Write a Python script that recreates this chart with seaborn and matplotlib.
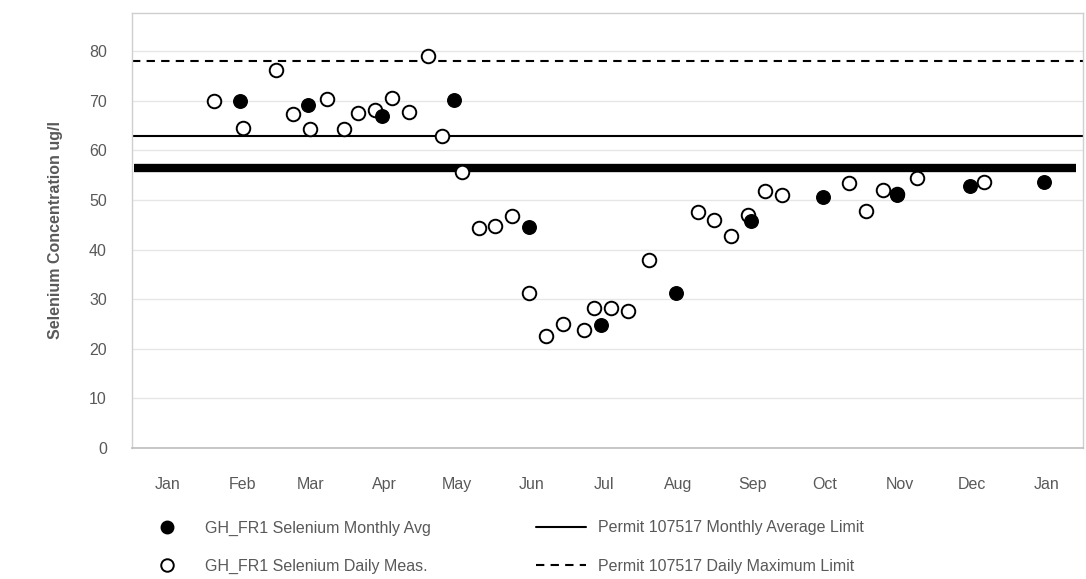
import pandas as pd
import numpy as np
import seaborn as sns
import matplotlib.dates as mdates
from matplotlib import pyplot as plt
from matplotlib.lines import Line2D

# datos
daily_dates = ['2019-01-20', '2019-02-01', '2019-02-15', '2019-02-22', '2019-03-01',
               '2019-03-08', '2019-03-15', '2019-03-21', '2019-03-28', '2019-04-04',
               '2019-04-11', '2019-04-19', '2019-04-25', '2019-05-03', '2019-05-10',
               '2019-05-17', '2019-05-24', '2019-05-31', '2019-06-07', '2019-06-14',
               '2019-06-23', '2019-06-27', '2019-07-04', '2019-07-11', '2019-07-20',
               '2019-08-09', '2019-08-16', '2019-08-23', '2019-08-30', '2019-09-06',
               '2019-09-13', '2019-10-11', '2019-10-18', '2019-10-25', '2019-10-31',
               '2019-11-08', '2019-12-06']
daily_values = [70.0, 64.5, 76.2, 67.3, 64.3, 70.4, 64.4, 67.6, 68.1, 70.6,
                67.7, 79.0, 62.9, 55.6, 44.3, 44.7, 46.7, 31.3, 22.6, 24.9,
                23.8, 28.3, 28.3, 27.7, 37.9, 47.5, 45.9, 42.8, 46.9, 51.9,
                51.0, 53.4, 47.7, 52.1, 51.2, 54.5, 53.7]

monthly_dates = ['2019-01-31', '2019-02-28', '2019-03-31', '2019-04-30', '2019-05-31',
                 '2019-06-30', '2019-07-31', '2019-08-31', '2019-09-30', '2019-10-31',
                 '2019-11-30', '2019-12-31']
monthly_values = [70.0, 69.2, 66.9, 70.1, 44.5, 24.8, 31.3, 45.7, 50.6, 51.0, 52.9, 53.7]

monthly_limit = 63
daily_limit = 78
bold_line_dates = ['2018-12-18', '2020-01-13']
bold_line_value = 56.4

x_range = ['2018-12-17', '2020-01-16']
y_range = (0, 87.7)

#############################################################################
daily = pd.DataFrame({'fecha': pd.to_datetime(daily_dates), 'valor': daily_values})
monthly = pd.DataFrame({'fecha': pd.to_datetime(monthly_dates), 'valor': monthly_values})

sns.set_style('white')
plt.rcParams['font.family'] = ['Liberation Sans Narrow', 'Liberation Sans', 'DejaVu Sans']

fig = plt.figure(figsize=(10.86, 5.79), dpi=100)
ax = fig.add_axes([0.1215, 0.2263, 0.8755, 0.7512])

gris = '#595959'

# lineas de limite
ax.axhline(daily_limit, color='black', lw=1.5, ls=(0, (4, 3)), zorder=2)
ax.axhline(monthly_limit, color='black', lw=1.5, zorder=2)
ax.plot(pd.to_datetime(bold_line_dates), [bold_line_value] * 2, color='black', lw=6,
        solid_capstyle='butt', zorder=2)

# puntos: diarios primero, promedio mensual encima
sns.scatterplot(data=daily, x='fecha', y='valor', ax=ax, marker='o', s=95,
                facecolor='white', edgecolor='black', linewidth=1.4, zorder=3)
sns.scatterplot(data=monthly, x='fecha', y='valor', ax=ax, marker='o', s=95,
                color='black', edgecolor='black', linewidth=1.0, zorder=4)

ax.set_xlim(pd.to_datetime(x_range[0]), pd.to_datetime(x_range[1]))
ax.set_ylim(*y_range)
ax.set_yticks(np.arange(0, 81, 10))
ax.xaxis.set_major_locator(mdates.MonthLocator())
ax.xaxis.set_major_formatter(mdates.DateFormatter('%b'))

ax.grid(axis='y', color='#e6e6e6', lw=1)
ax.set_axisbelow(True)

for lado in ['top', 'right', 'left']:
    ax.spines[lado].set_color('#cfcfcf')
    ax.spines[lado].set_linewidth(1)
ax.spines['bottom'].set_color('#bdbdbd')
ax.spines['bottom'].set_linewidth(1.2)

ax.tick_params(axis='x', direction='inout', length=10, width=1, color='#bdbdbd',
               pad=16, labelsize=11.5, labelcolor=gris)
ax.tick_params(axis='y', length=0, pad=18, labelsize=11.5, labelcolor=gris)

ax.set_xlabel('')
ax.set_ylabel('Selenium Concentration ug/l', fontsize=11.5, color=gris,
              fontweight='bold', labelpad=19)

handles = [
    Line2D([], [], marker='o', ls='none', color='black', markersize=9),
    Line2D([], [], marker='o', ls='none', markerfacecolor='white',
           markeredgecolor='black', markersize=9, markeredgewidth=1.4),
    Line2D([], [], color='black', lw=1.5),
    Line2D([], [], color='black', lw=1.5, ls=(0, (4, 3))),
]
labels = ['GH_FR1 Selenium Monthly Avg', 'GH_FR1 Selenium Daily Meas.',
          'Permit 107517 Monthly Average Limit', 'Permit 107517 Daily Maximum Limit']
fig.legend(handles, labels, ncol=2, frameon=False, loc='lower left',
           bbox_to_anchor=(0.118, -0.016), fontsize=11.5, labelcolor=gris,
           columnspacing=6.6, handlelength=3.1, handletextpad=0.8, labelspacing=1.45)

plt.savefig('out.png', dpi=100)
